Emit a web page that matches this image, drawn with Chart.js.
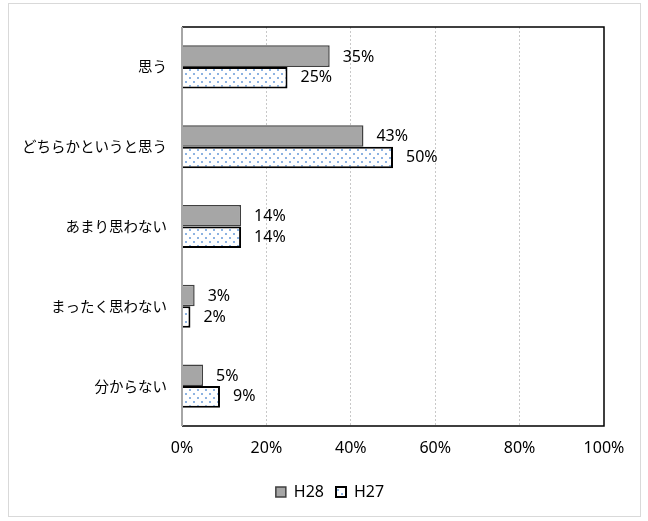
<!DOCTYPE html>
<html>
<head>
<meta charset="utf-8">
<script src="https://cdn.jsdelivr.net/npm/chart.js@4/dist/chart.umd.min.js"></script>
<style>
body { margin: 0; background: #fff; }
#wrap { position: absolute; left: 0; top: 0; width: 648px; height: 521px; }
</style>
</head>
<body>
<div id="wrap"><canvas id="myChart" width="648" height="521"></canvas></div>
<script>
// データ
var categories = ['思う', 'どちらかというと思う', 'あまり思わない', 'まったく思わない', '分からない'];
var seriesNames = ['H28', 'H27'];
var h28 = [35, 43, 14, 3, 5];
var h27 = [25, 50, 14, 2, 9];
var tickValues = [0, 20, 40, 60, 80, 100];

var cjkFont = "'Noto Sans CJK JP', 'Noto Sans', sans-serif";
var numFont = "'Noto Sans', 'Noto Sans CJK JP', sans-serif";

// H27 の点々模様
function dotPattern() {
    var c = document.createElement('canvas');
    c.width = 8; c.height = 8;
    var g = c.getContext('2d');
    g.fillStyle = '#ffffff';
    g.fillRect(0, 0, 8, 8);
    g.fillStyle = '#8db3e2';
    g.fillRect(1, 1, 2, 2);
    g.fillRect(5, 5, 2, 2);
    return g.createPattern(c, 'repeat');
}

// 外枠とプロット枠
const framePlugin = {
    id: 'frame',
    afterUpdate(chart) {
        // 凡例を少し右へ
        var lg = chart.legend;
        if (lg) {
            lg.left += 28;
            lg.right += 28;
            lg.top += 2;
            lg.bottom += 2;
            lg.adjustHitBoxes();
        }
    },
    beforeDraw(chart) {
        const ctx = chart.ctx;
        ctx.save();
        ctx.fillStyle = '#fff';
        ctx.fillRect(0, 0, chart.width, chart.height);
        ctx.strokeStyle = '#d9d9d9';
        ctx.lineWidth = 1;
        ctx.strokeRect(8.5, 3.5, 632, 513);
        ctx.restore();
    },
    afterDatasetsDraw(chart) {
        const a = chart.chartArea;
        const ctx = chart.ctx;
        ctx.save();
        ctx.strokeStyle = '#000';
        ctx.lineWidth = 1.5;
        ctx.beginPath();
        ctx.moveTo(a.left, a.top);
        ctx.lineTo(a.right, a.top);
        ctx.lineTo(a.right, a.bottom);
        ctx.lineTo(a.left, a.bottom);
        ctx.stroke();
        ctx.strokeStyle = '#a6a6a6';
        ctx.lineWidth = 2;
        ctx.beginPath();
        ctx.moveTo(a.left, a.top);
        ctx.lineTo(a.left, a.bottom);
        ctx.stroke();
        ctx.restore();
    }
};

// 数値ラベル
const labelPlugin = {
    id: 'barLabels',
    afterDatasetsDraw(chart) {
        const ctx = chart.ctx;
        ctx.save();
        ctx.font = '16px ' + numFont;
        ctx.fillStyle = '#000';
        ctx.textBaseline = 'middle';
        chart.data.datasets.forEach(function (ds, i) {
            chart.getDatasetMeta(i).data.forEach(function (bar, j) {
                var dy = i === 0 ? 1 : 0;
                ctx.fillText(ds.data[j] + '%', bar.x + 13, bar.y + dy);
            });
        });
        ctx.restore();
    }
};

new Chart(document.getElementById('myChart'), {
    type: 'bar',
    data: {
        labels: categories,
        datasets: [{
            label: seriesNames[0],
            data: h28,
            backgroundColor: '#a6a6a6',
            borderColor: '#404040',
            borderWidth: 1.5,
            categoryPercentage: 0.54,
            barPercentage: 1
        }, {
            label: seriesNames[1],
            data: h27,
            backgroundColor: dotPattern(),
            borderColor: '#000',
            borderWidth: 2,
            categoryPercentage: 0.54,
            barPercentage: 1
        }]
    },
    options: {
        indexAxis: 'y',
        responsive: false,
        animation: false,
        layout: { padding: { left: 0, right: 44, top: 27, bottom: 13 } },
        scales: {
            x: {
                min: 0, max: 100,
                afterBuildTicks: function (scale) {
                    scale.ticks = tickValues.map(function (v) { return { value: v }; });
                },
                afterFit: function (scale) { scale.height = 44; },
                ticks: {
                    color: '#000',
                    padding: 13,
                    font: { size: 16, family: numFont },
                    maxRotation: 0,
                    callback: function (v) { return v + '%'; }
                },
                grid: {
                    color: function (c) { return (c.tick && (c.tick.value === 0 || c.tick.value === 100)) ? 'rgba(0,0,0,0)' : '#c8c8c8'; },
                    drawTicks: false
                },
                border: { display: false, dash: [2, 2] }
            },
            y: {
                afterFit: function (scale) { scale.width = 182; },
                ticks: {
                    color: '#000',
                    padding: 15,
                    font: { size: 14.5, family: cjkFont }
                },
                grid: { display: false, drawTicks: false },
                border: { display: false }
            }
        },
        plugins: {
            legend: {
                position: 'bottom',
                labels: {
                    color: '#000',
                    font: { size: 16, family: numFont },
                    boxWidth: 10,
                    boxHeight: 10,
                    padding: 12
                }
            },
            tooltip: { enabled: false }
        }
    },
    plugins: [framePlugin, labelPlugin]
});
</script>
</body>
</html>
